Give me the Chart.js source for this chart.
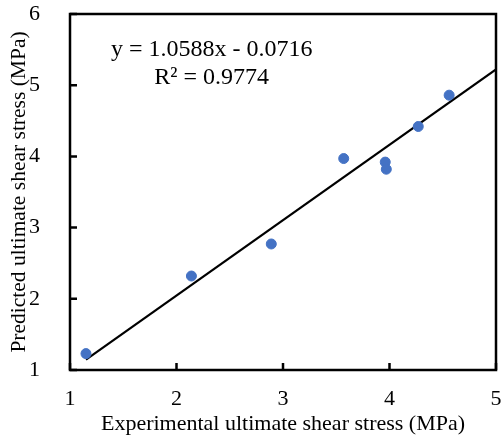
<!DOCTYPE html>
<html lang="en">
<head>
    <meta charset="UTF-8">
    <title>Predicted vs experimental shear stress</title>
    <script src="https://cdn.jsdelivr.net/npm/chart.js@4.4.0/dist/chart.umd.min.js"></script>
    <style>
        html, body { margin: 0; padding: 0; background: #fff; }
        #wrap { width: 502px; height: 437px; }
    </style>
</head>
<body>
    <div id="wrap"><canvas id="myChart" width="502" height="437"></canvas></div>
    <script>
        // measured points (MPa)
        const experimental = [1.15, 2.14, 2.89, 3.57, 3.96, 3.97, 4.27, 4.56];
        const predicted    = [1.23, 2.32, 2.77, 3.97, 3.92, 3.82, 4.42, 4.86];

        // linear fit y = 1.0588x - 0.0716, endpoints
        const trendX = [1.15, 5];
        const trendY = [1.146, 5.222];

        const xTicks = [1, 2, 3, 4, 5];
        const yTicks = [1, 2, 3, 4, 5, 6];
        const equationLines = ['y = 1.0588x - 0.0716', 'R\u00B2 = 0.9774'];

        const FONT = '"Liberation Serif", "Times New Roman", serif';

        // frame, inward tick marks and the fit equation
        const framePlugin = {
            id: 'frame',
            afterDatasetsDraw(chart) {
                const {ctx, chartArea: a, scales} = chart;
                ctx.save();
                ctx.strokeStyle = '#000';
                ctx.lineWidth = 2.5;
                ctx.strokeRect(a.left, a.top, a.right - a.left, a.bottom - a.top);
                ctx.beginPath();
                xTicks.forEach(v => {
                    const px = scales.x.getPixelForValue(v);
                    ctx.moveTo(px, a.bottom);
                    ctx.lineTo(px, a.bottom - 7);
                });
                yTicks.forEach(v => {
                    const py = scales.y.getPixelForValue(v);
                    ctx.moveTo(a.left, py);
                    ctx.lineTo(a.left + 7, py);
                });
                ctx.stroke();

                ctx.fillStyle = '#000';
                ctx.font = '24px ' + FONT;
                ctx.textAlign = 'center';
                ctx.textBaseline = 'middle';
                const cx = scales.x.getPixelForValue(2.33);
                ctx.fillText(equationLines[0], cx, a.top + 36);
                ctx.fillText(equationLines[1], cx, a.top + 64);
                ctx.restore();
            }
        };

        const ctx = document.getElementById('myChart').getContext('2d');
        const myChart = new Chart(ctx, {
            type: 'scatter',
            data: {
                datasets: [{
                    label: 'data',
                    data: experimental.map((x, i) => ({x: x, y: predicted[i]})),
                    backgroundColor: '#4472C4',
                    borderColor: '#4472C4',
                    pointRadius: 5,
                    pointHoverRadius: 5
                }, {
                    label: 'fit',
                    type: 'line',
                    data: trendX.map((x, i) => ({x: x, y: trendY[i]})),
                    borderColor: '#000',
                    borderWidth: 2.2,
                    pointRadius: 0,
                    fill: false
                }]
            },
            options: {
                responsive: false,
                animation: false,
                plugins: {
                    legend: {display: false},
                    tooltip: {enabled: false}
                },
                layout: {padding: {top: 14, right: 5, left: 0, bottom: 0}},
                scales: {
                    x: {
                        type: 'linear',
                        min: 1,
                        max: 5,
                        afterBuildTicks: s => { s.ticks = xTicks.map(v => ({value: v})); },
                        afterFit: s => { s.height = 67; s.paddingLeft = 0; s.paddingRight = 0; },
                        grid: {display: false},
                        border: {display: false},
                        ticks: {
                            color: '#000',
                            padding: 8,
                            font: {family: FONT, size: 22}
                        },
                        title: {
                            display: true,
                            text: 'Experimental ultimate shear stress (MPa)',
                            color: '#000',
                            font: {family: FONT, size: 22},
                            padding: {top: 3, bottom: 0}
                        }
                    },
                    y: {
                        type: 'linear',
                        min: 1,
                        max: 6,
                        afterBuildTicks: s => { s.ticks = yTicks.map(v => ({value: v})); },
                        afterFit: s => { s.width = 70; s.paddingTop = 0; s.paddingBottom = 0; },
                        grid: {display: false},
                        border: {display: false},
                        ticks: {
                            color: '#000',
                            padding: 22,
                            font: {family: FONT, size: 22}
                        },
                        title: {
                            display: true,
                            text: 'Predicted ultimate shear stress (MPa)',
                            color: '#000',
                            font: {family: FONT, size: 21.5},
                            padding: {top: 6, bottom: 0}
                        }
                    }
                }
            },
            plugins: [framePlugin]
        });
    </script>
</body>
</html>
